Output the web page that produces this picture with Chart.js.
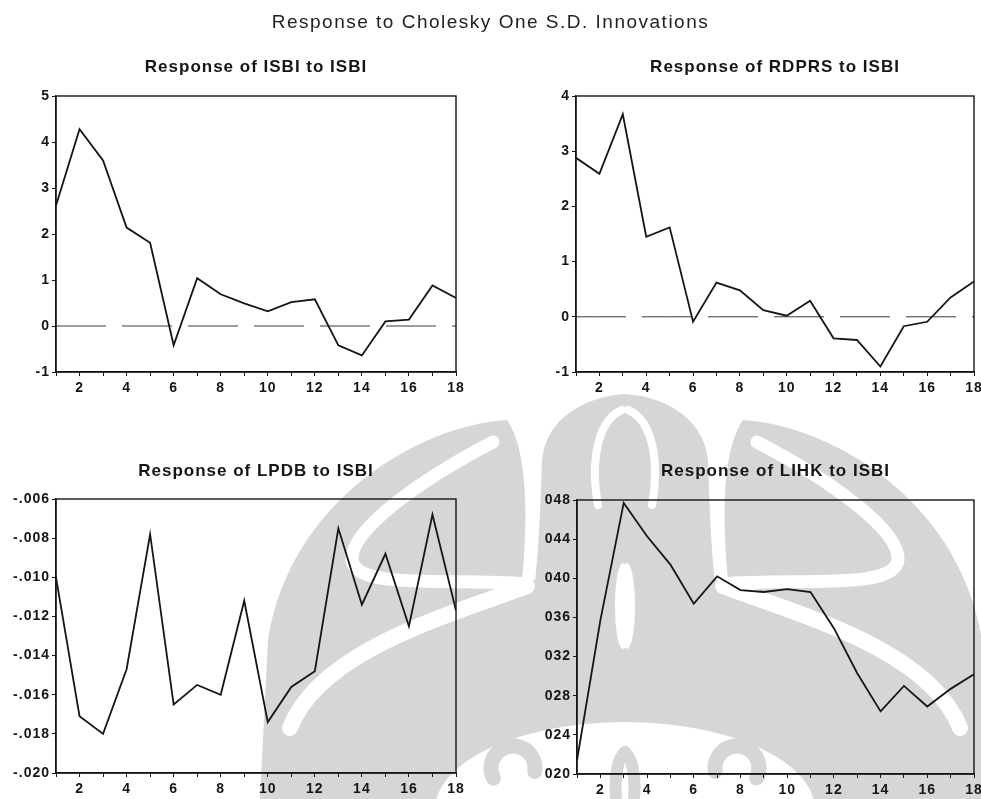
<!DOCTYPE html>
<html>
<head>
<meta charset="utf-8">
<script src="https://cdn.jsdelivr.net/npm/chart.js@4.4.1/dist/chart.umd.min.js"></script>
<style>
  body { margin: 0; background: #fff; }
  #page { position: relative; width: 981px; height: 799px; overflow: hidden; }
  #page canvas { position: absolute; }
  h1 {
    position: absolute; top: 11px; left: 0; width: 981px; margin: 0;
    text-align: center; font: normal 19px/22px "Liberation Sans", Arial, sans-serif;
    letter-spacing: 1.5px; color: #222;
  }
</style>
</head>
<body>
<div id="page">
  <canvas id="mark" width="981" height="799" style="left:0;top:0"></canvas>
  <h1>Response to Cholesky One S.D. Innovations</h1>
  <canvas id="isbi" width="480" height="350" style="left:0;top:50px"></canvas>
  <canvas id="rdprs" width="490" height="350" style="left:500px;top:50px"></canvas>
  <canvas id="lpdb" width="480" height="349" style="left:0;top:450px"></canvas>
  <canvas id="lihk" width="490" height="349" style="left:500px;top:450px"></canvas>
</div>
<script>
const periods = [1, 2, 3, 4, 5, 6, 7, 8, 9, 10, 11, 12, 13, 14, 15, 16, 17, 18];

const isbiToIsbi = [2.62, 4.28, 3.60, 2.14, 1.81, -0.42, 1.04, 0.69, 0.49, 0.32, 0.52, 0.58, -0.42, -0.64, 0.10, 0.14, 0.88, 0.61];
const rdprsToIsbi = [2.88, 2.59, 3.67, 1.45, 1.62, -0.09, 0.62, 0.48, 0.12, 0.02, 0.29, -0.39, -0.42, -0.90, -0.17, -0.09, 0.35, 0.64];
const lpdbToIsbi = [-0.0100, -0.0171, -0.0180, -0.0147, -0.0078, -0.0165, -0.0155, -0.0160, -0.0112, -0.0174, -0.0156, -0.0148, -0.0075, -0.0114, -0.0088, -0.0125, -0.0068, -0.0117];
const lihkToIsbi = [0.0214, 0.0357, 0.0477, 0.0443, 0.0414, 0.0374, 0.0402, 0.0388, 0.0386, 0.0389, 0.0386, 0.0349, 0.0303, 0.0264, 0.0290, 0.0269, 0.0287, 0.0302];

const ink = '#151515';
const tickFont = { family: '"Liberation Sans", Arial, sans-serif', size: 14, weight: 'bold' };
const titleFont = { family: '"Liberation Sans", Arial, sans-serif', size: 17, weight: 'bold' };

// university crest printed faintly behind the page (symmetric about x = 625)
function drawCrest() {
  const ctx = document.getElementById('mark').getContext('2d');
  const grey = '#d6d6d6';
  const curve = (w, pts) => {
    ctx.lineWidth = w;
    ctx.beginPath();
    ctx.moveTo(pts[0], pts[1]);
    for (let i = 2; i < pts.length; i += 6) {
      ctx.bezierCurveTo(pts[i], pts[i + 1], pts[i + 2], pts[i + 3], pts[i + 4], pts[i + 5]);
    }
    ctx.stroke();
  };
  const bothSides = (draw) => {
    [1, -1].forEach((side) => {
      ctx.save();
      if (side < 0) {
        ctx.translate(1250, 0);
        ctx.scale(-1, 1);
      }
      draw();
      ctx.restore();
    });
  };

  bothSides(() => {
    ctx.fillStyle = grey;
    // centre dome
    ctx.beginPath();
    ctx.moveTo(625, 394);
    ctx.bezierCurveTo(668, 397, 704, 420, 708, 460);
    ctx.bezierCurveTo(710, 520, 712, 560, 716, 590);
    ctx.lineTo(625, 590);
    ctx.closePath();
    ctx.fill();
    // side leaf, merging with the dome further down
    ctx.beginPath();
    ctx.moveTo(743, 420);
    ctx.bezierCurveTo(830, 425, 960, 500, 982, 640);
    ctx.lineTo(990, 799);
    ctx.lineTo(625, 799);
    ctx.lineTo(625, 580);
    ctx.lineTo(728, 580);
    ctx.bezierCurveTo(722, 520, 722, 450, 743, 420);
    ctx.closePath();
    ctx.fill();

    ctx.strokeStyle = '#fff';
    ctx.lineCap = 'round';
    ctx.lineJoin = 'round';
    // hook inside the leaf
    curve(13, [757, 442, 830, 480, 900, 530, 898, 560, 895, 590, 800, 578, 723, 584]);
    // long sweeping band
    curve(16, [960, 728, 930, 650, 800, 615, 723, 586]);
    // inner arch of the dome
    curve(8, [628, 410, 652, 420, 660, 460, 652, 505]);
  });

  // open ground under the crest
  ctx.fillStyle = '#fff';
  ctx.beginPath();
  ctx.ellipse(625, 810, 190, 88, 0, Math.PI, Math.PI * 2);
  ctx.fill();

  bothSides(() => {
    ctx.strokeStyle = grey;
    ctx.lineCap = 'round';
    // curl and base arch
    ctx.lineWidth = 15;
    ctx.beginPath();
    ctx.arc(737, 768, 22, Math.PI * 0.95, Math.PI * 2.15);
    ctx.stroke();
    curve(12, [634, 799, 636, 775, 632, 758, 625, 752]);
    // lens on the axis
    ctx.fillStyle = '#fff';
    ctx.beginPath();
    ctx.ellipse(627, 606, 8, 43, 0, 0, Math.PI * 2);
    ctx.fill();
  });
}

const framePlugin = {
  id: 'frame',
  beforeDraw(chart) {
    chart.ctx.letterSpacing = '1px';
  },
  afterDatasetsDraw(chart) {
    const { ctx, chartArea: a } = chart;
    ctx.save();
    ctx.strokeStyle = ink;
    ctx.lineWidth = 1.4;
    ctx.strokeRect(a.left, a.top, a.right - a.left, a.bottom - a.top);
    ctx.restore();
  },
};

const toPoints = (values) => periods.map((p, i) => ({ x: p, y: values[i] }));

function makePanel(id, title, values, y, box, zeroLine) {
  const datasets = [{
    data: toPoints(values),
    borderColor: ink,
    borderWidth: 1.8,
    pointRadius: 0,
    tension: 0,
  }];
  if (zeroLine) {
    datasets.push({
      data: toPoints(values.map(() => 0)),
      borderColor: '#3a3a3a',
      borderWidth: 1,
      borderDash: [50, 16],
      pointRadius: 0,
    });
  }
  return new Chart(document.getElementById(id), {
    type: 'line',
    data: { datasets },
    options: {
      responsive: false,
      animation: false,
      layout: { padding: { right: box.right, bottom: 0, left: 0, top: 0 } },
      plugins: {
        legend: { display: false },
        tooltip: { enabled: false },
        title: {
          display: true,
          text: title,
          fullSize: false,
          color: ink,
          font: titleFont,
          padding: { top: box.titleTop, bottom: box.titleBottom },
        },
      },
      scales: {
        x: {
          type: 'linear',
          min: 1,
          max: 18,
          ticks: {
            stepSize: 1,
            autoSkip: false,
            maxRotation: 0,
            padding: 4,
            color: ink,
            font: tickFont,
            callback: (v) => (v % 2 === 0 ? v : ''),
          },
          grid: { drawOnChartArea: false, tickLength: 4, color: ink },
          border: { color: ink, width: 1.4 },
          afterFit: (s) => { s.height = box.xHeight; },
        },
        y: {
          min: y.min,
          max: y.max,
          ticks: {
            stepSize: y.step,
            padding: 2,
            color: ink,
            font: tickFont,
            callback: y.format,
          },
          grid: { drawOnChartArea: false, tickLength: 4, color: ink },
          border: { color: ink, width: 1.4 },
          afterFit: (s) => { s.width = box.yWidth; },
        },
      },
    },
    plugins: [framePlugin],
  });
}

drawCrest();

makePanel('isbi', 'Response of ISBI to ISBI', isbiToIsbi,
  { min: -1, max: 5, step: 1, format: (v) => String(v) },
  { yWidth: 56, xHeight: 28, right: 24, titleTop: 7, titleBottom: 18.6 }, true);

makePanel('rdprs', 'Response of RDPRS to ISBI', rdprsToIsbi,
  { min: -1, max: 4, step: 1, format: (v) => String(v) },
  { yWidth: 76, xHeight: 28, right: 16, titleTop: 7, titleBottom: 18.6 }, true);

makePanel('lpdb', 'Response of LPDB to ISBI', lpdbToIsbi,
  { min: -0.020, max: -0.006, step: 0.002, format: (v) => v.toFixed(3).replace('0.', '.') },
  { yWidth: 56, xHeight: 26, right: 24, titleTop: 11, titleBottom: 17.6 }, false);

makePanel('lihk', 'Response of LIHK to ISBI', lihkToIsbi,
  { min: 0.020, max: 0.048, step: 0.004, format: (v) => v.toFixed(3).slice(2) },
  { yWidth: 77, xHeight: 25, right: 16, titleTop: 11, titleBottom: 18.6 }, false);
</script>
</body>
</html>
